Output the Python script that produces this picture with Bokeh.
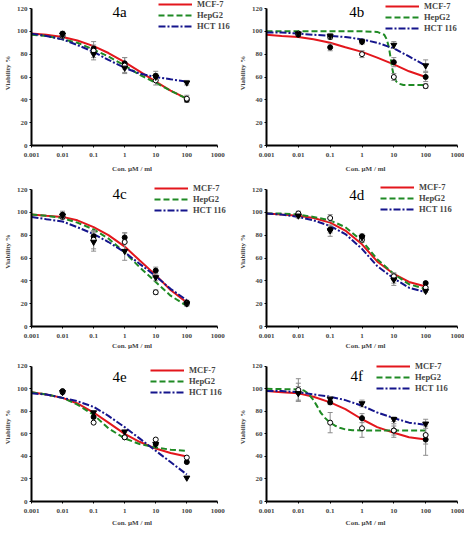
from bokeh.plotting import figure
from bokeh.layouts import gridplot
from bokeh.models import (Range1d, FixedTicker, PrintfTickFormatter, Legend,
                          LegendItem, Label)
from bokeh.embed import file_html
from bokeh.resources import INLINE

# ---------------- data ----------------
SERIES = ["MCF-7", "HepG2", "HCT 116"]
DOSES = [0.01, 0.1, 1, 10, 100]
CURVE_X = [0.001, 0.003, 0.01, 0.03, 0.1, 0.3, 1, 3, 10, 30, 100]
X_TICKS = [0.001, 0.01, 0.1, 1, 10, 100, 1000]
Y_TICKS = [0, 20, 40, 60, 80, 100, 120]
PANEL_NAMES = ["4a", "4b", "4c", "4d", "4e", "4f"]

# 4a
A_MCF7_FIT = [98, 97, 95, 92, 87, 81, 73, 65, 56, 48, 41]
A_HEPG2_FIT = [97, 96, 93, 90, 84, 78, 70, 62, 55, 48, 41]
A_HCT_FIT = [98, 96, 93, 88, 82, 75, 68, 63, 60, 58, 56]
A_MCF7_PTS = [98, 85, 72, 61, 40]
A_HEPG2_PTS = [96, 83, 70, 57, 41]
A_HCT_PTS = [97, 80, 68, 60, 55]
A_MCF7_ERR = [2, 3, 5, 4, 2]
A_HEPG2_ERR = [2, 8, 7, 4, 3]
A_HCT_ERR = [2, 3, 4, 3, 2]

# 4b
B_MCF7_FIT = [97, 96, 95, 93, 90, 86, 82, 77, 71, 65, 60]
B_HEPG2_FIT_X = [0.001, 0.01, 0.1, 1, 3, 5, 6, 7, 8, 9, 10, 12, 15, 20, 30, 100]
B_HEPG2_FIT = [100, 100, 100, 100, 99.5, 97, 93, 86, 76, 67, 61, 56, 54, 53, 53, 53]
B_HCT_FIT = [99, 99, 98, 97, 96, 95, 93, 90, 85, 78, 70]
B_MCF7_PTS = [97, 86, 91, 73, 60]
B_HEPG2_PTS = [98, 95, 80, 60, 52]
B_HCT_PTS = [98, 96, 91, 88, 70]
B_MCF7_ERR = [1, 3, 2, 4, 4]
B_HEPG2_ERR = [1, 2, 3, 3, 2]
B_HCT_ERR = [1, 2, 2, 3, 5]

# 4c
C_MCF7_FIT = [98, 97, 96, 93, 87, 80, 70, 58, 45, 32, 21]
C_HEPG2_FIT = [98, 97, 95, 91, 85, 77, 65, 52, 39, 27, 18]
C_HCT_FIT = [96, 94, 92, 87, 81, 74, 65, 55, 44, 33, 23]
C_MCF7_PTS = [98, 79, 78, 49, 21]
C_HEPG2_PTS = [96, 76, 74, 30, 20]
C_HCT_PTS = [97, 74, 66, 43, 20]
C_MCF7_ERR = [3, 4, 4, 3, 2]
C_HEPG2_ERR = [2, 8, 8, 2, 2]
C_HCT_ERR = [2, 8, 8, 3, 2]

# 4d
D_MCF7_FIT = [99, 98, 97, 95, 91, 84, 72, 57, 46, 39, 35]
D_HEPG2_FIT = [99, 99, 98, 96, 93, 87, 75, 59, 46, 37, 33]
D_HCT_FIT = [99, 98, 96, 93, 88, 81, 68, 53, 42, 34, 30]
D_MCF7_PTS = [98, 85, 79, 42, 38]
D_HEPG2_PTS = [99, 95, 76, 44, 34]
D_HCT_PTS = [97, 84, 78, 41, 31]
D_MCF7_ERR = [2, 3, 2, 4, 1]
D_HEPG2_ERR = [2, 3, 2, 3, 1]
D_HCT_ERR = [2, 5, 2, 5, 1]

# 4e
E_MCF7_FIT = [97, 95, 92, 87, 79, 70, 60, 53, 47, 43, 40]
E_HEPG2_FIT = [97, 95, 92, 86, 77, 65, 56, 51, 48, 46, 45]
E_HCT_FIT = [96, 95, 92, 89, 84, 76, 66, 56, 45, 35, 24]
E_MCF7_PTS = [98, 75, 57, 51, 35]
E_HEPG2_PTS = [97, 70, 57, 55, 39]
E_HCT_PTS = [97, 79, 62, 51, 21]
E_MCF7_ERR = [0, 0, 0, 0, 0]
E_HEPG2_ERR = [0, 0, 0, 0, 0]
E_HCT_ERR = [0, 0, 0, 0, 0]

# 4f
F_MCF7_FIT = [98, 97, 96, 93, 88, 82, 73, 66, 61, 57, 55]
F_HEPG2_FIT_X = [0.001, 0.01, 0.015, 0.02, 0.03, 0.04, 0.05, 0.07, 0.1, 0.15,
                 0.2, 0.3, 0.5, 1, 100]
F_HEPG2_FIT = [100, 99.5, 98.5, 96, 90, 84, 79, 74, 70, 67, 65.5, 64, 63.3, 63, 63]
F_HCT_FIT = [98, 98, 97, 95, 93, 90, 85, 79, 74, 70, 68]
F_MCF7_PTS = [97, 88, 74, 63, 55]
F_HEPG2_PTS = [99, 70, 65, 63, 59]
F_HCT_PTS = [96, 91, 87, 73, 69]
F_MCF7_ERR = [8, 2, 4, 4, 14]
F_HEPG2_ERR = [10, 9, 8, 6, 8]
F_HCT_ERR = [6, 2, 3, 2, 4]

PANELS = [
    dict(fits=[(CURVE_X, A_MCF7_FIT), (CURVE_X, A_HEPG2_FIT), (CURVE_X, A_HCT_FIT)],
         pts=[A_MCF7_PTS, A_HEPG2_PTS, A_HCT_PTS], errs=[A_MCF7_ERR, A_HEPG2_ERR, A_HCT_ERR]),
    dict(fits=[(CURVE_X, B_MCF7_FIT), (B_HEPG2_FIT_X, B_HEPG2_FIT), (CURVE_X, B_HCT_FIT)],
         pts=[B_MCF7_PTS, B_HEPG2_PTS, B_HCT_PTS], errs=[B_MCF7_ERR, B_HEPG2_ERR, B_HCT_ERR]),
    dict(fits=[(CURVE_X, C_MCF7_FIT), (CURVE_X, C_HEPG2_FIT), (CURVE_X, C_HCT_FIT)],
         pts=[C_MCF7_PTS, C_HEPG2_PTS, C_HCT_PTS], errs=[C_MCF7_ERR, C_HEPG2_ERR, C_HCT_ERR]),
    dict(fits=[(CURVE_X, D_MCF7_FIT), (CURVE_X, D_HEPG2_FIT), (CURVE_X, D_HCT_FIT)],
         pts=[D_MCF7_PTS, D_HEPG2_PTS, D_HCT_PTS], errs=[D_MCF7_ERR, D_HEPG2_ERR, D_HCT_ERR]),
    dict(fits=[(CURVE_X, E_MCF7_FIT), (CURVE_X, E_HEPG2_FIT), (CURVE_X, E_HCT_FIT)],
         pts=[E_MCF7_PTS, E_HEPG2_PTS, E_HCT_PTS], errs=[E_MCF7_ERR, E_HEPG2_ERR, E_HCT_ERR]),
    dict(fits=[(CURVE_X, F_MCF7_FIT), (F_HEPG2_FIT_X, F_HEPG2_FIT), (CURVE_X, F_HCT_FIT)],
         pts=[F_MCF7_PTS, F_HEPG2_PTS, F_HCT_PTS], errs=[F_MCF7_ERR, F_HEPG2_ERR, F_HCT_ERR]),
]

# ---------------- style ----------------
FONT = "Liberation Serif"
COLORS = ["#e3161c", "#1f8a24", "#15158c"]
DASHES = ["solid", "6 3", "7 2 2 2"]
MARKERS = [("circle", "black", 5), ("circle", "white", 5), ("inverted_triangle", "black", 6)]
ERR_COLOR = "#8c8c8c"

ROW_H = [176, 176, 177]
ROW_TOP = [8, 13, 14]          # pixels between the 120 line and the figure top
ROW_BOTTOM = [31, 26, 26]
ROW_XLABEL_STANDOFF = [5, 1, 3]
COL_LEFT = [26, 34]
COL_RIGHT = [15, 7]            # pixels between the 1000 tick and the figure edge
FRAME_W = 191
FRAME_H = 137
LEGEND_XY = [(127, 114), (119, 112), (123, 111), (114, 112), (119, 104), (110, 108)]
TITLE_Y = [116.6, 116.6, 115.7, 114.9, 110.6, 111.4]


def make_panel(i):
    row, col = divmod(i, 2)
    data = PANELS[i]
    # extend the ranges so that the frame reaches the figure edges (legend not clipped)
    x_end = 10 ** (3 + COL_RIGHT[col] * 6.0 / FRAME_W)
    y_end = 120 + ROW_TOP[row] * 120.0 / FRAME_H
    p = figure(width=232, height=ROW_H[row], x_axis_type="log",
               x_range=Range1d(0.001, x_end), y_range=Range1d(0, y_end),
               output_backend="svg", toolbar_location=None,
               min_border_left=COL_LEFT[col], min_border_right=0,
               min_border_top=0, min_border_bottom=ROW_BOTTOM[row])
    p.outline_line_color = None
    p.xgrid.grid_line_color = None
    p.ygrid.grid_line_color = None
    p.background_fill_color = "white"
    p.border_fill_color = "white"

    for ax in (p.xaxis, p.yaxis):
        ax.axis_line_width = 2
        ax.axis_line_color = "black"
        ax.major_tick_line_color = "black"
        ax.major_tick_line_width = 1
        ax.major_tick_out = 2
        ax.major_tick_in = 0
        ax.minor_tick_line_color = None
        ax.major_label_text_font = FONT
        ax.major_label_text_font_style = "bold"
        ax.major_label_text_font_size = "7px"
        ax.axis_label_text_font = FONT
        ax.axis_label_text_font_style = "bold"
        ax.axis_label_text_font_size = "7px"
    p.xaxis.major_label_standoff = 5
    p.yaxis.major_label_standoff = 2
    p.xaxis.bounds = (0.001, 1000)
    p.yaxis.bounds = (0, 120)
    p.xaxis.ticker = FixedTicker(ticks=X_TICKS)
    p.xaxis.formatter = PrintfTickFormatter(format="%g")
    p.yaxis.ticker = FixedTicker(ticks=Y_TICKS)
    p.xaxis.axis_label = "Con. \u00b5M / ml"
    p.yaxis.axis_label = "Viability %"
    p.xaxis.axis_label_standoff = ROW_XLABEL_STANDOFF[row]
    p.yaxis.axis_label_standoff = 2

    items = []
    for k in range(3):
        fx, fy = data["fits"][k]
        r = p.line(fx, fy, line_color=COLORS[k], line_width=2, line_dash=DASHES[k])
        items.append(LegendItem(label=SERIES[k], renderers=[r]))

    for k in range(3):
        vals = data["pts"][k]
        err = data["errs"][k]
        if any(e > 0 for e in err):
            up = [v + e for v, e in zip(vals, err)]
            lo = [v - e for v, e in zip(vals, err)]
            p.segment(DOSES, lo, DOSES, up, line_color=ERR_COLOR, line_width=1)
            p.scatter(DOSES + DOSES, up + lo, marker="dash", size=5,
                      line_color=ERR_COLOR, line_width=1)

    for k in range(3):
        m, fill, sz = MARKERS[k]
        p.scatter(DOSES, data["pts"][k], marker=m, size=sz, fill_color=fill,
                  line_color="black", line_width=1)

    legend = Legend(items=items, location=LEGEND_XY[i])
    legend.label_text_font = FONT
    legend.label_text_font_style = "bold"
    legend.label_text_font_size = "8.5px"
    legend.glyph_width = 34
    legend.glyph_height = 10
    legend.label_height = 10
    legend.label_standoff = 5
    legend.spacing = 1
    legend.padding = 0
    legend.margin = 0
    legend.border_line_alpha = 0
    legend.background_fill_alpha = 0
    p.add_layout(legend)

    p.add_layout(Label(x=0.68, y=TITLE_Y[i], text=PANEL_NAMES[i], text_font=FONT,
                       text_font_size="15px", text_align="center",
                       text_baseline="middle", text_color="black"))
    return p


figs = [make_panel(i) for i in range(6)]
grid = gridplot([[figs[0], figs[1]], [figs[2], figs[3]], [figs[4], figs[5]]],
                toolbar_location=None)

open("out.html", "w").write(file_html(grid, INLINE))
